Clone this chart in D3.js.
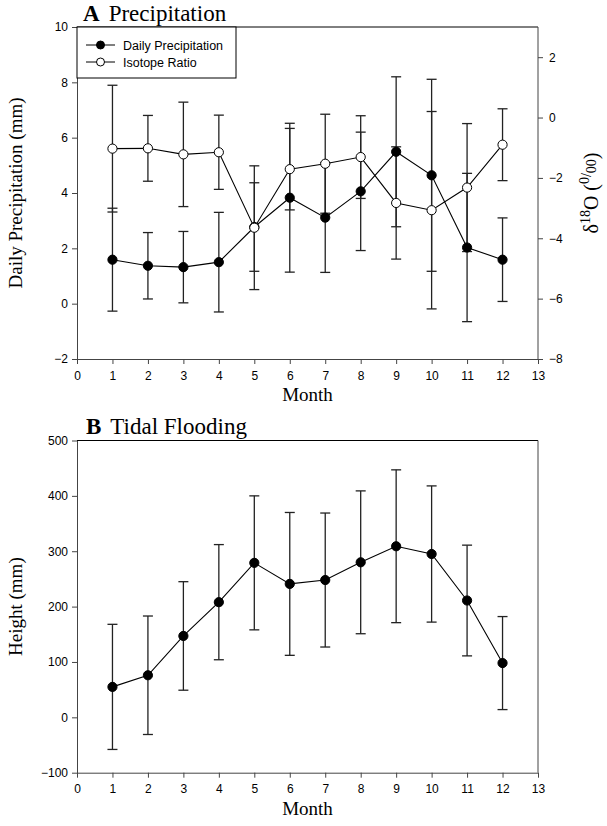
<!DOCTYPE html>
<head>
  <meta charset="utf-8">
  <style>
    body { margin: 0; background: #fff; }
    svg text { font-family: "Liberation Sans", Arial, sans-serif; }
    svg .tick text { font-size: 12px; fill: #000; }
    svg .domain { stroke: #444; }
    svg .tick line { stroke: #444; }
    svg .serif { font-family: "Liberation Serif", "Times New Roman", serif; }
    svg .err { stroke: #222; stroke-width: 1.3px; fill: none; }
    svg .series { stroke: #000; stroke-width: 1.1px; fill: none; }
  </style>
</head>

<body>
<script src="https://d3js.org/d3.v7.min.js"></script>

<script>
  // values
  var months = [1, 2, 3, 4, 5, 6, 7, 8, 9, 10, 11, 12];
  var precipMean = [1.59, 1.37, 1.32, 1.50, 2.77, 3.83, 3.11, 4.06, 5.49, 4.64, 2.03, 1.59];
  var precipErr  = [1.86, 1.20, 1.29, 1.80, 1.60, 2.69, 1.98, 2.14, 2.71, 3.47, 2.68, 1.51];
  var isoMean = [-1.03, -1.02, -1.22, -1.15, -3.65, -1.71, -1.53, -1.31, -2.83, -3.07, -2.32, -0.90];
  var isoErr  = [2.10, 1.09, 1.73, 1.23, 2.05, 1.35, 1.64, 1.37, 1.86, 3.27, 2.12, 1.19];
  var tideMean = [55, 76, 147, 208, 279, 241, 248, 280, 309, 295, 211, 98];
  var tideErr  = [113, 107, 98, 104, 121, 129, 121, 129, 138, 123, 100, 84];

  var xTicks = d3.range(0, 14);
  var precipTicks = [-2, 0, 2, 4, 6, 8, 10];
  var isoTicks = [-8, -6, -4, -2, 0, 2];
  var tideTicks = [-100, 0, 100, 200, 300, 400, 500];

  var W = 607, H = 826;
  var left = 77, right = 538;
  var capHalf = 5, r = 4.6;

  var svg = d3.select("body").append("svg")
      .attr("width", W)
      .attr("height", H);

  var x = d3.scaleLinear().domain([0, 13]).range([left, right]);

  function rows(mean, err) {
    return months.map(function(m, i) { return { m: m, v: mean[i], e: err[i] }; });
  }

  function errorBars(g, data, y) {
    var eb = g.append("g").selectAll("g").data(data).enter().append("g");
    eb.append("line").attr("class", "err")
      .attr("x1", function(d) { return x(d.m); })
      .attr("x2", function(d) { return x(d.m); })
      .attr("y1", function(d) { return y(d.v + d.e); })
      .attr("y2", function(d) { return y(d.v - d.e); });
    [1, -1].forEach(function(s) {
      eb.append("line").attr("class", "err")
        .attr("x1", function(d) { return x(d.m) - capHalf; })
        .attr("x2", function(d) { return x(d.m) + capHalf; })
        .attr("y1", function(d) { return y(d.v + s * d.e); })
        .attr("y2", function(d) { return y(d.v + s * d.e); });
    });
  }

  function series(g, data, y, fill) {
    var line = d3.line()
      .x(function(d) { return x(d.m); })
      .y(function(d) { return y(d.v); });
    g.append("path").datum(data).attr("class", "series").attr("d", line);
    g.append("g").selectAll("circle").data(data).enter().append("circle")
      .attr("cx", function(d) { return x(d.m); })
      .attr("cy", function(d) { return y(d.v); })
      .attr("r", r)
      .style("fill", fill)
      .style("stroke", "#000")
      .style("stroke-width", "1px");
  }

  function frame(top, bottom, yLeft, leftTicks, title, letter, titleY) {
    // x axis
    svg.append("g")
        .attr("transform", "translate(0," + bottom + ")")
        .call(d3.axisBottom(x).tickValues(xTicks).tickSize(5).tickSizeOuter(0).tickPadding(7));
    // left axis
    svg.append("g")
        .attr("transform", "translate(" + left + ",0)")
        .call(d3.axisLeft(yLeft).tickValues(leftTicks).tickSize(5).tickSizeOuter(0).tickPadding(4));
    // top border
    svg.append("line")
      .attr("x1", left).attr("x2", right)
      .attr("y1", top).attr("y2", top)
      .style("stroke", "#000");
    // month label
    svg.append("text").attr("class", "serif")
      .attr("x", (left + right) / 2)
      .attr("y", bottom + 42)
      .attr("text-anchor", "middle")
      .style("font-size", "19px")
      .text("Month");
    // panel title
    var t = svg.append("text").attr("class", "serif")
      .attr("x", letter === "A" ? 83 : 86)
      .attr("y", titleY)
      .style("font-size", "23px");
    t.append("tspan").style("font-weight", "bold").text(letter);
    t.append("tspan").attr("dx", 9).text(title);
  }

  // ---------- panel A ----------
  var topA = 27, botA = 359;
  var yP = d3.scaleLinear().domain([-2, 10]).range([botA, topA]);
  var yI = d3.scaleLinear().domain([-8, 3]).range([botA, topA]);

  frame(topA, botA, yP, precipTicks, "Precipitation", "A", 21);

  svg.append("g")
      .attr("transform", "translate(" + right + ",0)")
      .call(d3.axisRight(yI).tickValues(isoTicks).tickSize(5).tickSizeOuter(0).tickPadding(6))
    .select(".domain").attr("d", "M0," + botA + "V" + topA);

  var gA = svg.append("g");
  errorBars(gA, rows(isoMean, isoErr), yI);
  errorBars(gA, rows(precipMean, precipErr), yP);
  series(gA, rows(precipMean, precipErr), yP, "#000");
  series(gA, rows(isoMean, isoErr), yI, "#fff");

  svg.append("text").attr("class", "serif")
    .attr("transform", "translate(22," + (topA + botA) / 2 + ") rotate(-90)")
    .attr("text-anchor", "middle")
    .style("font-size", "19px")
    .text("Daily Precipitation (mm)");

  var rl = svg.append("text").attr("class", "serif")
    .attr("transform", "translate(598,193) rotate(-90)")
    .attr("text-anchor", "middle")
    .style("font-size", "20px");
  rl.append("tspan").text("\u03b4");
  rl.append("tspan").attr("dy", -8).style("font-size", "14px").text("18");
  rl.append("tspan").attr("dy", 8).text("O (");
  rl.append("tspan").attr("dy", -9).style("font-size", "14px").text("0");
  rl.append("tspan").attr("dy", 2).style("font-size", "14px").text("/");
  rl.append("tspan").attr("dy", 5).style("font-size", "14px").text("00");
  rl.append("tspan").attr("dy", 2).text(")");

  // legend
  var leg = svg.append("g");
  leg.append("rect")
    .attr("x", left).attr("y", topA)
    .attr("width", 159).attr("height", 51)
    .style("fill", "#fff").style("stroke", "#000");
  [["Daily Precipitation", "#000"], ["Isotope Ratio", "#fff"]].forEach(function(it, i) {
    var ly = 45 + i * 17;
    leg.append("line").attr("x1", 86).attr("x2", 115).attr("y1", ly).attr("y2", ly)
      .style("stroke", "#000");
    leg.append("circle").attr("cx", 100.5).attr("cy", ly).attr("r", 4)
      .style("fill", it[1]).style("stroke", "#000");
    leg.append("text").attr("x", 123).attr("y", ly + 4.5)
      .style("font-size", "12.5px").text(it[0]);
  });

  // ---------- panel B ----------
  var topB = 440.5, botB = 772.7;
  var yT = d3.scaleLinear().domain([-100, 500]).range([botB, topB]);

  frame(topB, botB, yT, tideTicks, "Tidal Flooding", "B", 434);

  svg.append("line")
    .attr("x1", right).attr("x2", right)
    .attr("y1", topB).attr("y2", botB)
    .style("stroke", "#444");

  var gB = svg.append("g");
  errorBars(gB, rows(tideMean, tideErr), yT);
  series(gB, rows(tideMean, tideErr), yT, "#000");

  svg.append("text").attr("class", "serif")
    .attr("transform", "translate(22," + (topB + botB) / 2 + ") rotate(-90)")
    .attr("text-anchor", "middle")
    .style("font-size", "19px")
    .text("Height (mm)");
</script>
</body>
</html>
